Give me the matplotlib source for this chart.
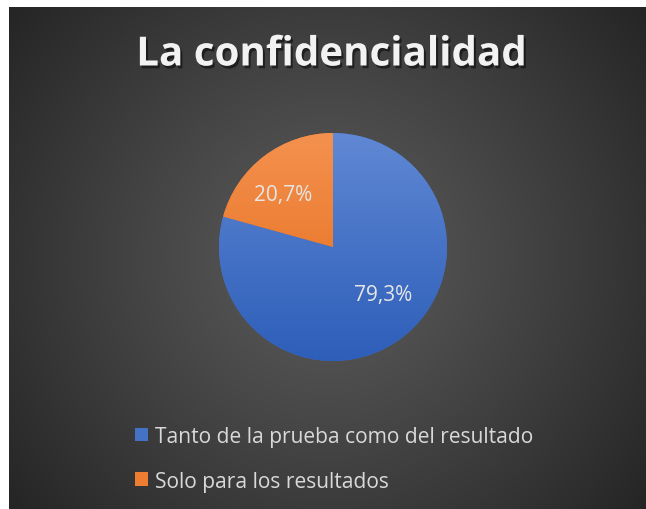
import matplotlib
matplotlib.use("Agg")
import matplotlib.pyplot as plt
import matplotlib.patheffects as pe
from matplotlib.patches import Patch
import numpy as np

# data
labels = ["Tanto de la prueba como del resultado", "Solo para los resultados"]
values = [79.3, 20.7]
title = "La confidencialidad"

# colours (top / bottom of the vertical gradient in each slice)
top_colors = ["#6088d4", "#f4914f"]
bottom_colors = ["#2d5eb9", "#e46a17"]
base_colors = ["#4472c4", "#ed7d31"]

W, H = 646, 510
fig = plt.figure(figsize=(W / 100, H / 100), dpi=100)
fig.patch.set_facecolor("white")

# dark radial background (white strip on top/left)
bg = fig.add_axes([9 / W, 0, 1 - 9 / W, 1 - 8 / H])
bg.set_axis_off()
yy, xx = np.mgrid[0:1:300j, 0:1:380j]
cx, cy = 0.5, 0.5
d = np.sqrt(((xx - cx) * 1.25) ** 2 + (yy - cy) ** 2)
d = np.clip(d / d.max(), 0, 1)
shade = 0.36 - (0.36 - 0.145) * d ** 1.1
bg.imshow(np.dstack([shade, shade, shade]), extent=[0, 1, 0, 1],
          aspect="auto", origin="lower", interpolation="bilinear")
bg.set_xlim(0, 1)
bg.set_ylim(0, 1)

# pie
R = 114
pcx, pcy = 333, 248
ax = fig.add_axes([(pcx - R) / W, (H - pcy - R) / H, 2 * R / W, 2 * R / H])
wedges, texts, autotexts = ax.pie(
    values, colors=base_colors, startangle=90, counterclock=False,
    autopct=lambda p: f"{p:.1f}%".replace(".", ","), pctdistance=0.62,
    wedgeprops=dict(linewidth=0),
    textprops=dict(color="#e6e6e6", fontsize=15, family="Open Sans"))
ax.set_xlim(-1, 1)
ax.set_ylim(-1, 1)
ax.set_aspect("equal")

# vertical gradient inside each slice
for w, c1, c2 in zip(wedges, top_colors, bottom_colors):
    a = np.array(matplotlib.colors.to_rgb(c1))
    b = np.array(matplotlib.colors.to_rgb(c2))
    t = np.linspace(0, 1, 200)[:, None]
    grad = (a * (1 - t) + b * t)[:, None, :]
    im = ax.imshow(grad, extent=[-1, 1, -1, 1], aspect="auto", zorder=w.get_zorder() + 0.1)
    im.set_clip_path(w)

for t in autotexts:
    t.set_zorder(5)
autotexts[0].set_position((0.44, -0.42))
autotexts[1].set_position((-0.44, 0.46))

# title
fig.text(331 / W, 1 - 56 / H, title, ha="center", va="center",
         fontsize=29, fontweight="bold", family="Open Sans", color="#f2f2f2",
         path_effects=[pe.withSimplePatchShadow(offset=(1.5, -2), shadow_rgbFace="black", alpha=0.5)])

# legend
handles = [Patch(facecolor=c, edgecolor="none") for c in base_colors]
fig.legend(handles, labels, loc="upper left", bbox_to_anchor=(116 / W, 1 - 408 / H),
           frameon=False, labelcolor="#d9d9d9",
           handlelength=0.62, handleheight=0.62, handletextpad=0.33,
           labelspacing=1.13, prop=dict(family="Open Sans", size=15.1))

fig.savefig("out.png", dpi=100, facecolor=fig.get_facecolor())
